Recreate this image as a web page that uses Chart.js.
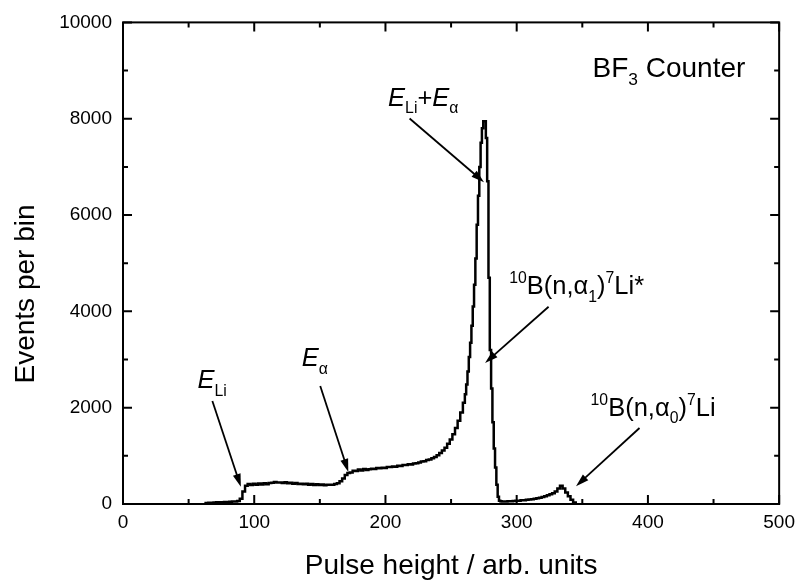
<!DOCTYPE html>
<html>
<head>
<meta charset="utf-8">
<script src="https://cdn.jsdelivr.net/npm/chart.js@4.4.0/dist/chart.umd.min.js"></script>
<style>
  html, body { margin: 0; background: #fff; }
</style>
</head>
<body>
<canvas id="graf" width="802" height="583"></canvas>
<script>
// pulse height channels (arb. units)
const channels = [
  62, 64, 66, 68, 70, 72, 74, 76, 78, 80, 82, 84, 86, 88, 90, 92, 94, 96, 98,
  100, 102, 104, 106, 108, 110, 112, 114, 116, 118, 120, 122, 124, 126, 128, 130,
  132, 134, 136, 138, 140, 142, 144, 146, 148, 150, 152, 154, 156, 158, 160, 162,
  164, 166, 168, 170, 172, 174, 176, 178, 180, 182, 184, 186, 188, 190, 192, 194,
  196, 198, 200, 202, 204, 206, 208, 210, 212, 214, 216, 218, 220, 222, 224, 226,
  228, 230, 232, 234, 236, 238, 240, 242, 244, 246, 248, 250, 252, 254, 256, 258, 260,
  261, 262, 263, 264, 265, 266, 267, 268, 269, 270, 271, 272, 273, 274, 275, 276,
  277, 278, 279, 280, 281, 282, 283, 284, 285, 286, 287, 288, 289, 290,
  292, 294, 296, 298, 300, 302, 304, 306, 308, 310, 312, 314, 316, 318, 320, 322,
  324, 326, 328, 330, 332, 334, 336, 338, 340, 342, 344, 346
]

// events per bin
const counts = [
  10, 22, 25, 28, 30, 34, 33, 38, 42, 40, 46, 50, 52, 62, 110, 260, 380, 415, 395,
  420, 400, 425, 405, 430, 412, 436, 440, 458, 444, 448, 436, 450, 430, 442, 422,
  436, 414, 420, 410, 418, 400, 414, 395, 408, 392, 404, 388, 398, 402, 400, 414,
  430, 470, 530, 600, 645, 655, 690, 685, 715, 698, 725, 708, 722, 730, 726, 745,
  742, 755, 750, 766, 768, 780, 774, 795, 790, 810, 812, 826, 818, 840, 848, 862,
  884, 890, 912, 925, 950, 975, 1010, 1060, 1110, 1170, 1250, 1340, 1450, 1580, 1730, 1900, 2100,
  2280, 2480, 2750, 3050, 3350, 3700, 4100, 4550, 5100, 5800, 6400, 7000, 7500, 7800, 7950, 7950,
  7600, 6700, 4700, 3200, 2400, 1700, 1150, 760, 400, 150, 70, 55, 50, 52,
  50, 55, 55, 60, 65, 70, 76, 80, 86, 95, 100, 110, 120, 130, 145, 160,
  180, 200, 225, 260, 320, 380, 320, 240, 160, 90, 30, 0
]

const xMajor = [0, 100, 200, 300, 400, 500]
const xMinor = [50, 150, 250, 350, 450]
const yMajor = [0, 2000, 4000, 6000, 8000, 10000]
const yMinor = [1000, 3000, 5000, 7000, 9000]

// labels and arrows, in data coordinates
const notas = [
  { parts: [['BF'], ['3', 'sub'], [' Counter']], at: [357.8, 8868], size: 28 },
  { parts: [['E', 'i'], ['Li', 'sub'], ['+'], ['E', 'i'], ['\u03B1', 'sub']], at: [202, 8272], from: [218.4, 8004], to: [275.1, 6681] },
  { parts: [['E', 'i'], ['Li', 'sub']], at: [56.7, 2407], from: [68.1, 2140], to: [89.8, 356] },
  { parts: [['E', 'i'], ['\u03B1', 'sub']], at: [136.2, 2860], from: [150.3, 2449], to: [171.7, 665] },
  { parts: [['10', 'sup'], ['B(n,\u03B1'], ['1', 'sub'], [')'], ['7', 'sup'], ['Li*']], at: [294.3, 4362], from: [324.3, 4095], to: [275.9, 2928] },
  { parts: [['10', 'sup'], ['B(n,\u03B1'], ['0', 'sub'], [')'], ['7', 'sup'], ['Li']], at: [356.3, 1831], from: [393.6, 1578], to: [345.2, 370] }
]

const FAMILIA = '"Liberation Sans", Arial, sans-serif'

function textoRico(ctx, parts, x, y, size) {
  let cx = x
  parts.forEach((p) => {
    const txt = p[0]
    const tipo = p[1]
    let fs = size
    let dy = 0
    let estilo = ''
    if (tipo === 'i') estilo = 'italic '
    if (tipo === 'sub') { fs = size * 0.62; dy = size * 0.3 }
    if (tipo === 'sup') { fs = size * 0.62; dy = -size * 0.42 }
    ctx.font = estilo + fs + 'px ' + FAMILIA
    ctx.fillText(txt, cx, y + dy)
    cx += ctx.measureText(txt).width
  })
}

function seta(ctx, x1, y1, x2, y2) {
  const ang = Math.atan2(y2 - y1, x2 - x1)
  const len = 13
  const half = 4
  ctx.beginPath()
  ctx.moveTo(x1, y1)
  ctx.lineTo(x2 - Math.cos(ang) * len * 0.8, y2 - Math.sin(ang) * len * 0.8)
  ctx.lineWidth = 1.8
  ctx.stroke()
  ctx.beginPath()
  ctx.moveTo(x2, y2)
  ctx.lineTo(x2 - Math.cos(ang) * len - Math.sin(ang) * half, y2 - Math.sin(ang) * len + Math.cos(ang) * half)
  ctx.lineTo(x2 - Math.cos(ang) * len + Math.sin(ang) * half, y2 - Math.sin(ang) * len - Math.cos(ang) * half)
  ctx.closePath()
  ctx.fill()
}

const moldura = {
  id: 'moldura',
  afterDraw(chart) {
    const ctx = chart.ctx
    const a = chart.chartArea
    const xs = chart.scales.x
    const ys = chart.scales.y
    ctx.save()
    ctx.strokeStyle = '#000'
    ctx.fillStyle = '#000'
    ctx.lineWidth = 2
    ctx.strokeRect(a.left, a.top, a.right - a.left, a.bottom - a.top)

    // inward ticks on all four sides
    ctx.beginPath()
    const xt = (v, l) => {
      const p = xs.getPixelForValue(v)
      ctx.moveTo(p, a.bottom); ctx.lineTo(p, a.bottom - l)
      ctx.moveTo(p, a.top); ctx.lineTo(p, a.top + l)
    }
    const yt = (v, l) => {
      const p = ys.getPixelForValue(v)
      ctx.moveTo(a.left, p); ctx.lineTo(a.left + l, p)
      ctx.moveTo(a.right, p); ctx.lineTo(a.right - l, p)
    }
    xMajor.forEach((v) => xt(v, 9))
    xMinor.forEach((v) => xt(v, 5))
    yMajor.forEach((v) => yt(v, 9))
    yMinor.forEach((v) => yt(v, 5))
    ctx.stroke()

    // y axis title
    ctx.save()
    ctx.translate(26, 294)
    ctx.rotate(-Math.PI / 2)
    ctx.textAlign = 'center'
    ctx.textBaseline = 'middle'
    ctx.font = '28px ' + FAMILIA
    ctx.fillText('Events per bin', 0, 0)
    ctx.restore()

    // annotations
    ctx.textBaseline = 'alphabetic'
    ctx.textAlign = 'left'
    notas.forEach((n) => {
      textoRico(ctx, n.parts, xs.getPixelForValue(n.at[0]), ys.getPixelForValue(n.at[1]), n.size || 25.5)
      if (n.from) {
        seta(ctx,
          xs.getPixelForValue(n.from[0]), ys.getPixelForValue(n.from[1]),
          xs.getPixelForValue(n.to[0]), ys.getPixelForValue(n.to[1]))
      }
    })
    ctx.restore()
  }
}

window.addEventListener('DOMContentLoaded', function () {
  const pontos = channels.map((c, i) => ({ x: c, y: counts[i] }))
  const ctx = document.getElementById('graf').getContext('2d')
  new Chart(ctx, {
    type: 'line',
    data: {
      datasets: [{
        label: 'BF3',
        data: pontos,
        borderColor: '#000',
        borderWidth: 2.5,
        pointRadius: 0,
        fill: false,
        stepped: 'middle'
      }]
    },
    options: {
      responsive: false,
      animation: false,
      devicePixelRatio: 1,
      layout: { padding: { top: 18, right: 18, left: 0, bottom: 0 } },
      plugins: { legend: { display: false }, tooltip: { enabled: false } },
      scales: {
        x: {
          type: 'linear',
          min: 0,
          max: 500,
          afterFit: (s) => { s.height = 79 },
          grid: { display: false, drawTicks: false },
          border: { display: false },
          ticks: {
            stepSize: 100,
            color: '#000',
            padding: 7,
            font: { size: 19, family: FAMILIA },
            callback: (v) => String(v)
          },
          title: {
            display: true,
            text: 'Pulse height / arb. units',
            color: '#000',
            padding: { top: 0, bottom: 0 },
            font: { size: 28, family: FAMILIA }
          }
        },
        y: {
          min: 0,
          max: 10000,
          afterFit: (s) => { s.width = 123 },
          grid: { display: false, drawTicks: false },
          border: { display: false },
          ticks: {
            stepSize: 2000,
            color: '#000',
            padding: 11,
            font: { size: 19, family: FAMILIA },
            callback: (v) => String(v)
          }
        }
      }
    },
    plugins: [moldura]
  })
})
</script>
</body>
</html>
